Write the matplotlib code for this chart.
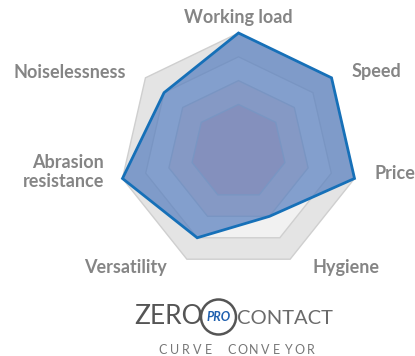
import numpy as np
import matplotlib
matplotlib.use("Agg")
import matplotlib.pyplot as plt
from matplotlib.patches import Polygon, Circle

# ---- data ----
categories = ["Working load", "Speed", "Price", "Hygiene", "Versatility",
              "Abrasion\nresistance", "Noiselessness"]
values = [5, 5, 5, 3, 4, 5, 4]
max_value = 5
grid_levels = [2, 3, 4, 5]

W, H = 415, 356
fig = plt.figure(figsize=(W / 100, H / 100), dpi=100)
R = 119.0
cx, cy = 238.5, 152.0
ax = fig.add_axes([0, 0, 1, 1])
ax.set_xlim(-cx / R, (W - cx) / R)
ax.set_ylim(-(H - cy) / R, cy / R)
ax.axis("off")

n = len(categories)
ang = np.pi / 2 - np.arange(n) * 2 * np.pi / n  # clockwise from top


def pts(radii):
    r = np.asarray(radii, dtype=float) / max_value
    return np.column_stack([r * np.cos(ang), r * np.sin(ang)])


# background bands (outer to inner)
band_colors = {5: "#e4e4e4", 4: "#f1f1f1", 3: "#f6dcd6", 2: "#f2bdbd"}
for lvl in sorted(grid_levels, reverse=True):
    ax.add_patch(Polygon(pts([lvl] * n), closed=True, facecolor=band_colors[lvl],
                         edgecolor="#cfcfcf", linewidth=1.0, zorder=1))

# data polygon
p = pts(values)
ax.add_patch(Polygon(p, closed=True, facecolor="#557dbe", alpha=0.7,
                     edgecolor="none", zorder=3))
ax.add_patch(Polygon(p, closed=True, facecolor="none", edgecolor="#1670b8",
                     linewidth=2.0, joinstyle="miter", zorder=4))

# labels (pixel anchors)
label_font = dict(family="Lato", fontweight="bold", fontsize=13, color="#858585")
label_pos = [
    (238.5, 18, "center"),
    (352, 72, "left"),
    (374, 173, "left"),
    (312, 268, "left"),
    (167, 268, "right"),
    (104, 172, "right"),
    (126, 72, "right"),
]


def px(x, y):
    return (x - cx) / R, (cy - y) / R


for lab, (x, y, ha) in zip(categories, label_pos):
    X, Y = px(x, y)
    ax.text(X, Y, lab, ha=ha, va="center", multialignment="right" if ha == "right" else "center",
            linespacing=1.15, **label_font)

# ---- logo ----
X, Y = px(168.5, 316)
ax.text(X, Y, "ZERO", ha="center", va="center", fontsize=19, family="Lato",
        fontweight="normal", color="#555555")
Xc, Yc = px(218.5, 317)
ax.add_patch(Circle((Xc, Yc), 17.5 / R, facecolor="white", edgecolor="#555555",
                    linewidth=1.8, zorder=5))
ax.text(Xc, Yc, "PRO", ha="center", va="center", fontsize=9, family="Lato",
        fontweight="bold", style="italic", color="#1f5fae", zorder=6)
X, Y = px(285, 318)
ax.text(X, Y, "CONTACT", ha="center", va="center", fontsize=14.5, family="Lato",
        fontweight="normal", color="#6a6a6a")
sub = "CURVE CONVEYOR"
x0, x1 = 163, 311
for i, ch in enumerate(sub):
    xx = x0 + (x1 - x0) * i / (len(sub) - 1)
    X, Y = px(xx, 350.5)
    ax.text(X, Y, ch, ha="center", va="center", fontsize=9, family="Lato",
            color="#777777")

fig.savefig("out.png", dpi=100)
